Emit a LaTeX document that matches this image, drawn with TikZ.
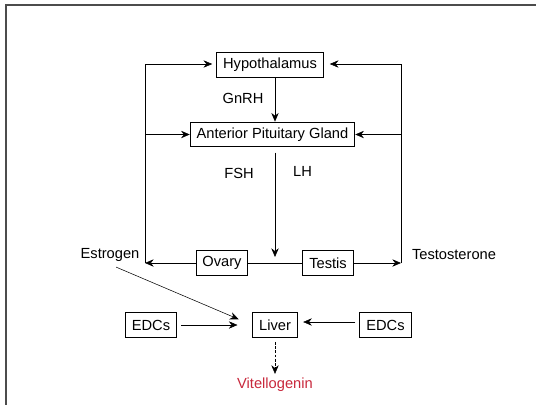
\documentclass[tikz,border=0pt]{standalone}
\usepackage{fontspec}
\setmainfont{Liberation Sans}
\usetikzlibrary{arrows.meta, positioning}

\definecolor{vitred}{RGB}{200,40,60}

\begin{document}
\begin{tikzpicture}[x=0.75pt,y=-0.75pt,>={Stealth[length=6.5pt,width=5.5pt]},
        font=\fontsize{11}{13}\selectfont,
        organ/.style={draw, thick, minimum height=18.5pt, inner xsep=4.8pt, inner ysep=0pt},
        signal/.style={inner sep=2pt}]
        \useasboundingbox (0,0) rectangle (536,404);
        \draw[line width=1pt, gray!60!black] (6,5) rectangle (545,415);

        \node[organ]                 (hyp)      at (270,65)    {Hypothalamus};
        \node[organ]                 (apg)      at (272.5,134.5) {Anterior Pituitary Gland};
        \node[organ]                 (ovary)    at (222,263)   {Ovary};
        \node[organ]                 (testis)   at (328,263)   {Testis};
        \node[organ]                 (liver)    at (275,325)   {Liver};
        \node[organ]                 (edc_l)    at (151,325)   {EDCs};
        \node[organ]                 (edc_r)    at (385.5,325) {EDCs};

        \node[signal]                (gnrh)     at (243,98)    {GnRH};
        \node[signal]                (fsh)      at (239,173)   {FSH};
        \node[signal]                (lh)       at (302.5,171) {LH};
        \node[signal]                (estrogen) at (110,255)   {Estrogen};
        \node[signal]                (testo)    at (454,255)   {Testosterone};
        \node[signal, text=vitred]   (vit)      at (275,385)   {Vitellogenin};

        \coordinate (spine) at (275,263);
        \coordinate (est_low) at (145,263);
        \coordinate (est_top) at (145,64);
        \coordinate (tes_low) at (401,263);
        \coordinate (tes_top) at (401,64);

        % axis
        \draw[->] (hyp.south -| spine) -- (apg.north -| spine);
        \draw[->, shorten <=4pt, shorten >=4.5pt] (apg.south -| spine) -- (spine);
        \draw (ovary.east) -- (testis.west);

        % feedback loops
        \draw[->] (ovary.west) -- (est_low);
        \draw[->, shorten >=3pt] (est_low) -- (est_top) -- (hyp.west |- est_top);
        \draw[->] (est_low |- apg) -- (apg.west);
        \draw[->] (testis.east) -- (tes_low);
        \draw[->, shorten >=4.5pt] (tes_low) -- (tes_top) -- (hyp.east |- tes_top);
        \draw[->] (tes_low |- apg) -- (apg.east);

        % liver
        \draw[->, shorten <=5pt, shorten >=11pt] (estrogen.south) -- (liver.west);
        \draw[->, shorten <=3pt, shorten >=11pt] (edc_l.east) -- (liver.west);
        \draw[->, shorten <=3pt, shorten >=4pt] (edc_r.west |- 0,322) -- (liver.east |- 0,322);
        \draw[->, dash pattern=on 2pt off 1.2pt, shorten <=3pt, shorten >=1pt] (liver.south) -- (vit.north);
\end{tikzpicture}
\end{document}
